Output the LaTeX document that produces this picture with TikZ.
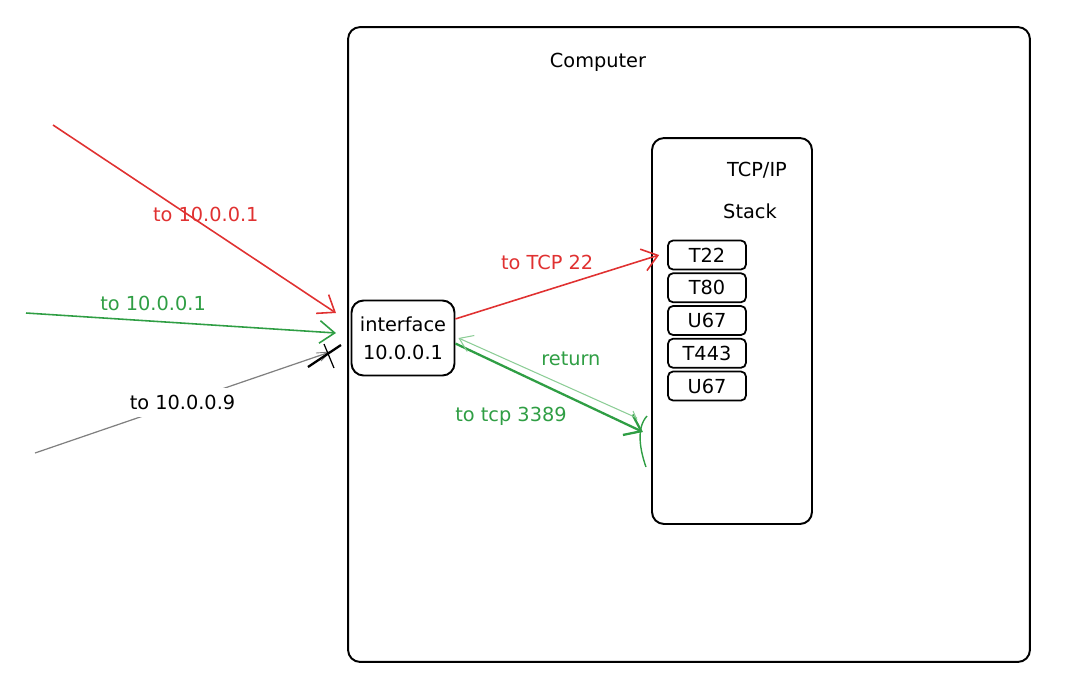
\documentclass[tikz,border=0pt]{standalone}
\usepackage{fontspec}
\setmainfont{DejaVu Sans}
\usetikzlibrary{arrows.meta, positioning}

\definecolor{xred}{RGB}{224,49,49}
\definecolor{xgreen}{RGB}{47,158,68}
\definecolor{xpale}{RGB}{140,205,150}

\begin{document}
\begin{tikzpicture}[x=0.02cm, y=-0.02cm, node distance=0.04cm,
  box/.style={draw, line width=1.1pt, rounded corners=0.24cm},
  port/.style={draw, line width=1pt, rounded corners=0.1cm, minimum width=1.56cm, minimum height=0.58cm, inner sep=0pt, font=\fontsize{11}{12}\selectfont},
  lbl/.style={font=\fontsize{11}{13}\selectfont},
  link/.style={line width=0.9pt, ->},
  >={Straight Barb[length=3mm, width=4.5mm]}]
\useasboundingbox (0,0) rectangle (1080,698);

\node[box, minimum width=13.64cm, minimum height=12.7cm] (pc) at (689,344.5) {};
\node[lbl] (pctitle) at (598,62) {Computer};

\node[box, minimum width=3.2cm, minimum height=7.72cm] (stack) at (732,331) {};
\node[lbl] (stacktitle) at (757,170) {TCP/IP};
\node[lbl] (stacksub) at (750,211) {Stack};

\node[port] (t22) at (707,255) {T22};
\node[port, below=of t22] (t80) {T80};
\node[port, below=of t80] (u67a) {U67};
\node[port, below=of u67a] (t443) {T443};
\node[port, below=of t443] (u67b) {U67};

\node[box, minimum width=2.06cm, minimum height=1.5cm, align=center,
      font=\fontsize{11}{16}\selectfont] (iface) at (403,338) {interface\\10.0.0.1};

% incoming traffic
\coordinate (redsrc) at (53,125);
\coordinate (redend) at (336,313);
\coordinate (grnsrc) at (26,313);
\coordinate (grnend) at (336,333);
\coordinate (graysrc) at (35,453);
\coordinate (grayend) at (330,352);

\draw[link, xred] (redsrc) -- node[lbl, pos=0.54, above=-1pt, xred] (lblred) {to 10.0.0.1} (redend);
\draw[link, xgreen] (grnsrc) -- node[lbl, pos=0.41, above=2pt, xgreen] (lblgrn) {to 10.0.0.1} (grnend);
\draw[line width=0.7pt, gray] (graysrc) -- node[lbl, pos=0.5, fill=white, text=black, inner sep=4pt] (lblgray) {to 10.0.0.9} (grayend);
\draw[line width=0.5pt, gray] (grayend) -- ++(-14,1) (grayend) -- ++(-9,9);
\draw[line width=1.3pt] (308,367) -- (341,345);
\draw[line width=0.7pt] (324,344) -- (334,368);

% traffic inside
\coordinate (sshend) at ([xshift=-0.16cm]t22.west);
\coordinate (rdpend) at (643,432);
\coordinate (retsrc) at (637,418);
\coordinate (retend) at ([xshift=0.06cm]iface.east);

\draw[link, xred] (iface.20) -- node[lbl, pos=0.45, above=8pt, xred] (lblssh) {to TCP 22} (sshend);
\draw[link, xgreen, line width=1.3pt] (iface.-6) -- (rdpend);
\node[lbl, xgreen] (lblrdp) at (511,416) {to tcp 3389};
\draw[xgreen, line width=0.8pt] (647,416) .. controls (636,428) and (640,450) .. (646,467);
\draw[link, xpale, line width=0.6pt, >={Straight Barb[length=2.5mm, width=3.5mm]}] (retsrc) -- node[lbl, pos=0.37, above=9pt, xgreen] (lblret) {return} (retend);
\draw[xpale, line width=0.6pt] (633,411) -- (637,420);
\end{tikzpicture}
\end{document}
